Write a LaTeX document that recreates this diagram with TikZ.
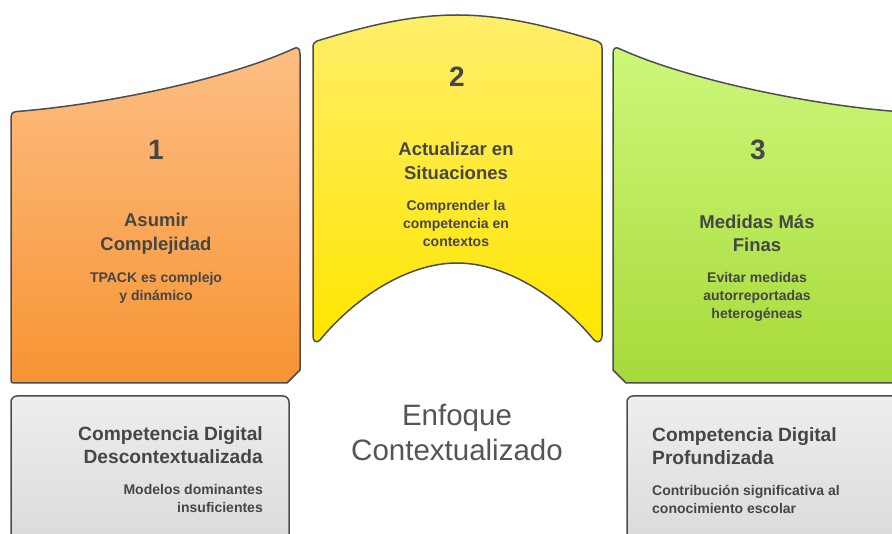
\documentclass[tikz,border=0pt]{standalone}
\usepackage{fontspec}
\setmainfont{Liberation Sans}
\definecolor{edgegray}{HTML}{4D4D4D}
\definecolor{txt}{HTML}{464646}
\definecolor{txtc}{HTML}{555555}
\definecolor{orTop}{HTML}{FDBE84}
\definecolor{orBot}{HTML}{F79433}
\definecolor{yeTop}{HTML}{FFEE6A}
\definecolor{yeBot}{HTML}{FFE600}
\definecolor{grTop}{HTML}{CDF77A}
\definecolor{grBot}{HTML}{A6DA3A}
\definecolor{gyTop}{HTML}{EEEEEE}
\definecolor{gyBot}{HTML}{D8D8D8}
\begin{document}
\begin{tikzpicture}[x=1pt,y=-1pt,
  shapeedge/.style={draw=edgegray, line width=1.5pt, line join=round},
  num/.style={inner sep=0pt, text=txt, font=\fontsize{28}{28}\selectfont\bfseries},
  ttl/.style={inner sep=0pt, text=txt, align=center, font=\fontsize{18.5}{23.5}\selectfont\bfseries},
  gttl/.style={inner sep=0pt, text=txt, font=\fontsize{19.2}{23.5}\selectfont\bfseries},
  sub/.style={inner sep=0pt, text=txt, align=center, font=\fontsize{14}{18}\selectfont\bfseries},
  center/.style={inner sep=0pt, text=txtc, align=center, font=\fontsize{29.5}{35}\selectfont}]
\useasboundingbox (0,0) rectangle (892,534);
\clip (0,0) rectangle (892,534);
% orange shape
\path[shapeedge, top color=orTop, bottom color=orBot]
  (11,117) -- (11,378) .. controls (11,383) .. (16,383) -- (287,383) -- (300,370) -- (300,54)
  .. controls (300,47.5) and (297,47) .. (294,48.5)
  .. controls (230,78) and (110,104) .. (17,111.5)
  .. controls (12,112) and (11,114) .. (11,117) -- cycle;
% yellow shape
\path[shapeedge, top color=yeTop, bottom color=yeBot]
  (313,48) -- (313,336) .. controls (313,341) and (316,344) .. (320,340)
  .. controls (357,295) and (410,263) .. (457,263)
  .. controls (504,263) and (557,295) .. (594,340)
  .. controls (598,344) and (602,341) .. (602,336) -- (602,48)
  .. controls (602,44) and (600,42) .. (597,41)
  .. controls (542,24) and (499,15) .. (457,15)
  .. controls (415,15) and (372,24) .. (317,41)
  .. controls (314,42) and (313,44) .. (313,48) -- cycle;
% green shape
\path[shapeedge, top color=grTop, bottom color=grBot]
  (902,117) -- (902,378) .. controls (902,383) .. (897,383) -- (626,383) -- (613,370) -- (613,54)
  .. controls (613,47.5) and (616,47) .. (619,48.5)
  .. controls (683,78) and (803,104) .. (896,111.5)
  .. controls (901,112) and (902,114) .. (902,117) -- cycle;
% gray boxes
\path[shapeedge, top color=gyTop, bottom color=gyBot, rounded corners=6pt] (11,396) rectangle (289,560);
\path[shapeedge, top color=gyTop, bottom color=gyBot, rounded corners=6pt] (627,396) rectangle (920,560);
% texts
\node[num] (n1) at (156,150) {1};
\node[ttl] (t1) at (156,233.5) {Asumir\\Complejidad};
\node[sub] (s1) at (156,288) {TPACK es complejo\\y dinámico};
\node[num] (n2) at (457,77) {2};
\node[ttl] (t2) at (456,161) {Actualizar en\\Situaciones};
\node[sub] (s2) at (456,223.5) {Comprender la\\competencia en\\contextos};
\node[num] (n3) at (758,150) {3};
\node[ttl] (t3) at (757,233.5) {Medidas Más\\Finas};
\node[sub] (s3) at (757,297) {Evitar medidas\\autorreportadas\\heterogéneas};
\node[gttl, anchor=east, align=right] (t4) at (263,445) {Competencia Digital\\Descontextualizada};
\node[sub, anchor=east, align=right] (s4) at (263,498.5) {Modelos dominantes\\insuficientes};
\node[gttl, anchor=west, align=left] (t5) at (652,446) {Competencia Digital\\Profundizada};
\node[sub, anchor=west, align=left] (s5) at (652,499) {Contribución significativa al\\conocimiento escolar};
\node[center] (c) at (457,432) {Enfoque\\Contextualizado};
\end{tikzpicture}
\end{document}
